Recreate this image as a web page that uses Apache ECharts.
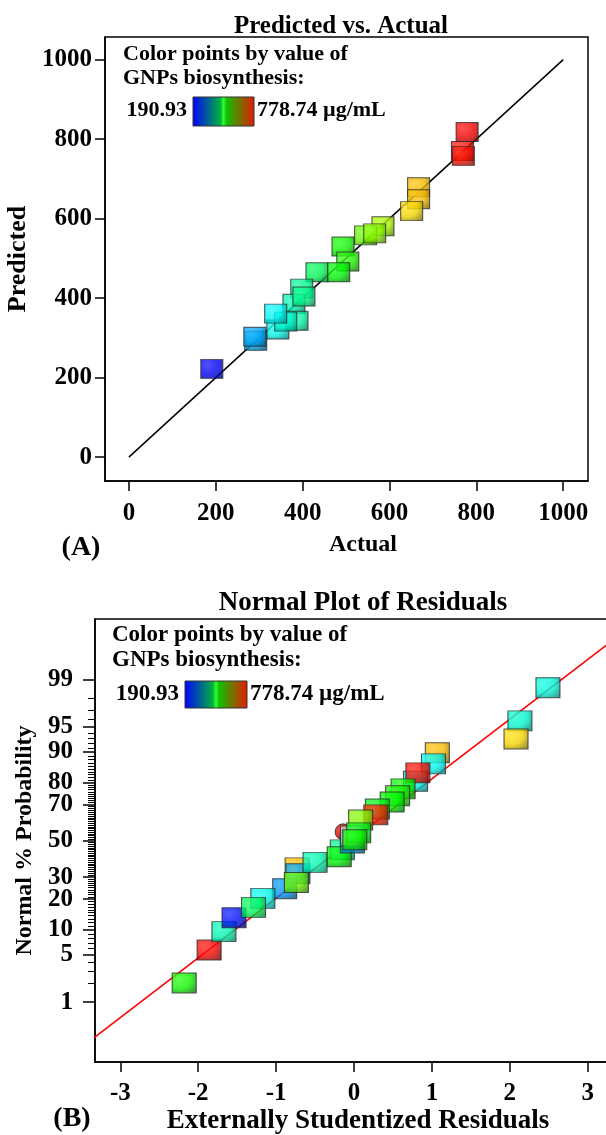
<!DOCTYPE html>
<html><head><meta charset="utf-8">
<script src="https://cdn.jsdelivr.net/npm/echarts@6/dist/echarts.min.js"></script>
<style>html,body{margin:0;padding:0;background:#fff}#c{width:606px;height:1135px}</style>
</head><body><div id="c"></div>
<script>
const FONT = "'Liberation Serif','Times New Roman',serif";

// ---------- (A) Predicted vs. Actual ----------
const actualA    = [778.74, 768, 770, 667, 667, 651, 585, 545, 566, 493, 504, 433, 483, 398, 380, 403, 343, 387, 361, 338, 292, 290, 190.93];
const predictedA = [818,    770, 758, 679, 649, 619, 581, 558, 563, 530, 492, 465, 465, 424, 386, 404, 321, 343, 341, 361, 293, 303, 222];
const refLineA   = [[0, 0], [1000, 1000]];
const ticksA     = [0, 200, 400, 600, 800, 1000];

// ---------- (B) Normal Plot of Residuals ----------
const residualB    = [-0.73, -0.72, -0.89, -0.74, -2.18, -1.86, -1.67, -1.54, -1.17, -1.29, -0.50, -0.15, -0.19,
                      2.49, 2.13, 2.08, 1.07, 1.02, 0.79, 0.82, 0.63, 0.56, 0.49, 0.30, 0.28, 0.085,
                      -0.02, -0.02, 0.06, 0.01];
const probabilityB = [34.83, 31.74, 24.51, 27.43, 2.02, 5.76, 9.51, 13.35, 20.33, 16.85, 37.83, 44.83, 40.90,
                      98.64, 95.82, 92.92, 89.80, 86.65, 80.51, 83.65, 77.34, 74.22, 71.23, 67.72, 64.62, 61.79,
                      48.80, 52.79, 54.58, 50.60];
const gnpsB        = [667, 290, 280, 545, 495, 775, 380, 200, 345, 433, 380, 400, 480,
                      355, 362, 651, 667, 340, 340, 770, 490, 500, 483, 470, 760, 560,
                      285, null, 470, 493];
const circleResidB = [-0.14];
const circleProbB  = [55.17];
const fitLineB     = [[-3.5, 0.144], [3.5, 99.884]];
const probTicksB   = [1, 5, 10, 20, 30, 50, 70, 80, 90, 95, 99];
const residTicksB  = [-3, -2, -1, 0, 1, 2, 3];

// colour legend
const colorMin = 190.93, colorMax = 778.74;
const legendTitle = ['Color points by value of', 'GNPs biosynthesis:'];
const legendMinText = '190.93';
const legendMaxText = '778.74 µg/mL';

// inverse normal CDF (probability axis transform)
function probit(p){
  const a=[-3.969683028665376e+01,2.209460984245205e+02,-2.759285104469687e+02,1.383577518672690e+02,-3.066479806614716e+01,2.506628277459239e+00];
  const b=[-5.447609879822406e+01,1.615858368580409e+02,-1.556989798598866e+02,6.680131188771972e+01,-1.328068155288572e+01];
  const c=[-7.784894002430293e-03,-3.223964580411365e-01,-2.400758277161838e+00,-2.549732539343734e+00,4.374664141464968e+00,2.938163982698783e+00];
  const d=[7.784695709041462e-03,3.224671290700398e-01,2.445134137142996e+00,3.754408661907416e+00];
  const pl=0.02425, ph=1-pl; let q,r;
  if(p<pl){q=Math.sqrt(-2*Math.log(p));return (((((c[0]*q+c[1])*q+c[2])*q+c[3])*q+c[4])*q+c[5])/((((d[0]*q+d[1])*q+d[2])*q+d[3])*q+1);}
  if(p<=ph){q=p-0.5;r=q*q;return (((((a[0]*r+a[1])*r+a[2])*r+a[3])*r+a[4])*r+a[5])*q/(((((b[0]*r+b[1])*r+b[2])*r+b[3])*r+b[4])*r+1);}
  q=Math.sqrt(-2*Math.log(1-p));return -(((((c[0]*q+c[1])*q+c[2])*q+c[3])*q+c[4])*q+c[5])/((((d[0]*q+d[1])*q+d[2])*q+d[3])*q+1);
}

function rampColor(v){
  const stops=[[0,[0,0,255]],[0.25,[0,255,255]],[0.5,[0,255,0]],[0.75,[255,255,0]],[1,[255,0,0]]];
  let t=(v-colorMin)/(colorMax-colorMin); t=Math.max(0,Math.min(1,t));
  for(let i=1;i<stops.length;i++){
    if(t<=stops[i][0]){const [t0,c0]=stops[i-1],[t1,c1]=stops[i];const f=(t-t0)/(t1-t0);return c0.map((x,k)=>Math.round(x+(c1[k]-x)*f));}
  }
  return stops[stops.length-1][1];
}
function shade(rgb,f){return 'rgb('+rgb.map(x=>Math.round(f>=0?x+(255-x)*f:x*(1+f))).join(',')+')';}
function squareStyle(rgb){
  return {color:new echarts.graphic.RadialGradient(0.3,0.3,0.85,[
    {offset:0,color:shade(rgb,0.15)},{offset:0.55,color:shade(rgb,-0.05)},{offset:1,color:shade(rgb,-0.45)}]),
    borderColor:'#2a2a2a',borderWidth:1};
}

const axisLineStyle = {show:true, onZero:false, lineStyle:{color:'#000', width:1.5}};
const labelStyle = (size, margin, extra) => Object.assign({fontSize:size, fontWeight:'bold', fontFamily:FONT, color:'#000', margin:margin}, extra||{});
const nameStyle = (size, pad) => ({fontSize:size, fontWeight:'bold', fontFamily:FONT, color:'#000', padding:pad||0});
const plain = v => String(Math.round(v*1000)/1000);

const probMinor = Array.from({length:99},(_,i)=>i+1).filter(p=>probTicksB.indexOf(p)<0).map(p=>probit(p/100));
const probMajor = probTicksB.map(p=>probit(p/100));

function legendGraphics(x, y1, y2, y3, size, boxX, boxY, boxW, boxH){
  const f = 'bold '+size+'px '+FONT;
  const grad = new echarts.graphic.LinearGradient(0,0,1,0,[
    {offset:0,color:'#0000ff'},{offset:0.45,color:'#00b040'},{offset:0.5,color:'#30ff30'},{offset:0.55,color:'#10c000'},{offset:1,color:'#e81800'}]);
  return [
    {type:'text', x:x, y:y1, style:{text:legendTitle[0], font:f, fill:'#000', align:'left', verticalAlign:'middle'}},
    {type:'text', x:x, y:y2, style:{text:legendTitle[1], font:f, fill:'#000', align:'left', verticalAlign:'middle'}},
    {type:'text', x:boxX-6, y:y3, style:{text:legendMinText, font:f, fill:'#000', align:'right', verticalAlign:'middle'}},
    {type:'rect', shape:{x:boxX, y:boxY, width:boxW, height:boxH}, style:{fill:grad, stroke:'#333', lineWidth:1}},
    {type:'text', x:boxX+boxW+3, y:y3, style:{text:legendMaxText, font:f, fill:'#000', align:'left', verticalAlign:'middle'}}
  ];
}

const chart = echarts.init(document.getElementById('c'), null, {renderer:'canvas'});
chart.setOption({
  animation:false,
  backgroundColor:'#fff',
  title:[
    {text:'Predicted vs. Actual', left:336, top:9, textAlign:'center', textStyle:{fontSize:25, fontWeight:'bold', fontFamily:FONT, color:'#000'}},
    {text:'Normal Plot of Residuals', left:358, top:585, textAlign:'center', textStyle:{fontSize:27, fontWeight:'bold', fontFamily:FONT, color:'#000'}}
  ],
  grid:[
    {left:105, top:37, width:483, height:444, show:true, borderColor:'#000', borderWidth:1.5, outerBoundsMode:'none'},
    {left:95, top:619, width:518, height:443, show:true, borderColor:'#000', borderWidth:1.5, outerBoundsMode:'none'}
  ],
  xAxis:[
    {type:'value', gridIndex:0, position:'bottom', min:-55, max:1057, axisLine:axisLineStyle,
     axisTick:{show:true, inside:false, length:10, customValues:ticksA, lineStyle:{color:'#000', width:1.5}},
     axisLabel:labelStyle(25, 20, {customValues:ticksA, formatter:plain}), splitLine:{show:false},
     name:'Actual', nameLocation:'middle', nameGap:52, nameTextStyle:nameStyle(24,[0,0,0,33])},
    {type:'value', gridIndex:1, position:'bottom', min:-3.325, max:3.325, axisLine:axisLineStyle,
     axisTick:{show:true, inside:false, length:10, customValues:residTicksB, lineStyle:{color:'#000', width:1.5}},
     axisLabel:labelStyle(25, 19, {customValues:residTicksB, formatter:plain}), splitLine:{show:false},
     name:'Externally Studentized Residuals', nameLocation:'middle', nameGap:46, nameTextStyle:nameStyle(27,[0,0,0,8])}
  ],
  yAxis:[
    {type:'value', gridIndex:0, position:'left', min:-60, max:1057, axisLine:axisLineStyle,
     axisTick:{show:true, inside:false, length:10, customValues:ticksA, lineStyle:{color:'#000', width:1.5}},
     axisLabel:labelStyle(25, 13, {customValues:ticksA, formatter:plain}), splitLine:{show:false},
     name:'Predicted', nameLocation:'middle', nameGap:68, nameTextStyle:nameStyle(26)},
    {type:'value', gridIndex:1, position:'left', min:-3.19, max:3.2, axisLine:axisLineStyle,
     axisTick:{show:true, inside:false, length:12, customValues:probMajor, lineStyle:{color:'#000', width:1.5}},
     axisLabel:labelStyle(25, 22, {customValues:probMajor, formatter:function(v){
        for(let i=0;i<probTicksB.length;i++){ if(Math.abs(probMajor[i]-v)<1e-6) return String(probTicksB[i]); }
        return ''; }}),
     splitLine:{show:false},
     name:'Normal % Probability', nameLocation:'middle', nameGap:58, nameTextStyle:nameStyle(24)},
    {type:'value', gridIndex:1, position:'left', offset:0, min:-3.19, max:3.2, axisLine:{show:false, onZero:false},
     axisTick:{show:true, inside:false, length:7, customValues:probMinor, lineStyle:{color:'#000', width:1}},
     axisLabel:{show:false}, splitLine:{show:false}}
  ],
  series:[
    {type:'line', xAxisIndex:0, yAxisIndex:0, data:refLineA, symbol:'none', silent:true,
     lineStyle:{color:'#000', width:1.5}, z:2},
    {type:'scatter', xAxisIndex:0, yAxisIndex:0, symbol:'rect', symbolSize:[22,19], silent:true, z:3,
     data:actualA.map((a,i)=>({value:[a, predictedA[i]], itemStyle:squareStyle(rampColor(a))}))},
    {type:'line', xAxisIndex:1, yAxisIndex:1, data:fitLineB.map(p=>[p[0], probit(p[1]/100)]), symbol:'none', silent:true,
     lineStyle:{color:'#ff0000', width:1.5}, z:2, clip:true},
    {type:'scatter', xAxisIndex:1, yAxisIndex:1, symbol:'circle', symbolSize:16, silent:true, z:3,
     data:circleResidB.map((r,i)=>({value:[r, probit(circleProbB[i]/100)], itemStyle:squareStyle([230,0,0])}))},
    {type:'scatter', xAxisIndex:1, yAxisIndex:1, symbol:'rect', symbolSize:[24,20], silent:true, z:4,
     data:residualB.map((r,i)=>({value:[r, probit(probabilityB[i]/100)],
       itemStyle:squareStyle(gnpsB[i]==null?[205,205,205]:rampColor(gnpsB[i]))}))}
  ],
  graphic:[].concat(
    legendGraphics(123, 54, 78, 110, 22, 193, 97, 61, 29),
    legendGraphics(112, 635, 660, 694, 23, 185, 681, 62, 27),
    [
      {type:'text', x:81, y:548, style:{text:'(A)', font:'bold 28px '+FONT, fill:'#000', align:'center', verticalAlign:'middle'}},
      {type:'text', x:72, y:1119, style:{text:'(B)', font:'bold 28px '+FONT, fill:'#000', align:'center', verticalAlign:'middle'}}
    ]
  )
});
</script></body></html>
